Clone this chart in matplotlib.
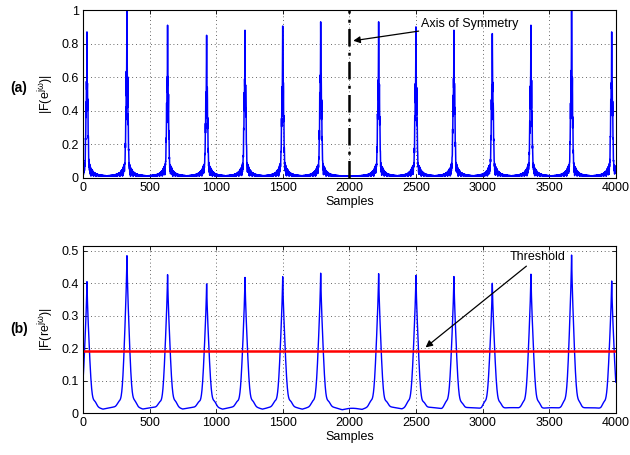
import numpy as np
import matplotlib
matplotlib.use("Agg")
import matplotlib.pyplot as plt
from matplotlib.ticker import FormatStrFormatter, MultipleLocator

plt.rcParams["font.family"] = ["Liberation Sans", "DejaVu Sans"]
plt.rcParams["mathtext.default"] = "regular"
plt.rcParams["mathtext.fontset"] = "custom"
plt.rcParams["mathtext.rm"] = "Liberation Sans"

# peak positions (samples), symmetric about 2000
peak_pos = [30, 330, 635, 928, 1216, 1499, 1784, 2219, 2499, 2784, 3072, 3362, 3667, 3968]
# peak heights, panel (a) and panel (b)
peak_a = [0.87, 1.0, 0.91, 0.85, 0.88, 0.905, 0.93, 0.93, 0.90, 0.88, 0.86, 0.91, 1.0, 0.87]
peak_b = [0.405, 0.485, 0.426, 0.398, 0.419, 0.423, 0.433, 0.43, 0.423, 0.419, 0.398, 0.426, 0.485, 0.405]
threshold = 0.19
n_samples = 4000

n = np.arange(n_samples)

# (a) raw spectrum: sharp spikes with a ragged shoulder, small floor ripple
ya = 0.005 + 0.008 * np.abs(np.sin(0.37 * n) * np.cos(0.053 * n))
for c, h in zip(peak_pos, peak_a):
    d = n - c
    core = 1.0 / (1 + (d / 2.5) ** 2)
    body = 0.68 / (1 + (d / 10.0) ** 4) * (0.6 + 0.4 * np.abs(np.cos(2.3 * n)))
    feet = 0.11 / (1 + (d / 28.0) ** 2) * np.abs(np.sin(1.1 * n))
    ya = np.maximum(ya, np.maximum(h * np.maximum(core, body), feet + 0.01))
ya = np.minimum(ya, 1.0)

# (b) smoothed spectrum
yb = 0.009 + 0.005 * np.abs(np.sin(0.021 * n))
for c, h in zip(peak_pos, peak_b):
    d = np.abs(n - c)
    shape = 0.3 * np.exp(-d / 6.0) + 0.62 * np.exp(-(d / 27.0) ** 2) + 0.08 * np.exp(-d / 45.0)
    yb += (h - 0.012) * shape + 0.012 * np.exp(-((d - 60) / 18.0) ** 2)

fig = plt.figure(figsize=(6.3, 4.55), dpi=100)
ax1 = fig.add_axes([0.1317, 0.6088, 0.846, 0.369])
ax2 = fig.add_axes([0.1317, 0.0923, 0.846, 0.367])

grid_kw = dict(color="k", linestyle=(0, (1, 3.5)), linewidth=0.6, alpha=0.8)

ax1.plot(n, ya, color="#0000ff", lw=1.1)
ax1.axvline(2000, color="k", lw=1.8, linestyle=(0, (7, 2.5, 1.2, 2.5)))
ax1.annotate("Axis of Symmetry", xy=(2008, 0.815), xytext=(2540, 0.92),
             fontsize=9, va="center", ha="left",
             arrowprops=dict(arrowstyle="-|>", color="k", lw=0.9, mutation_scale=10, shrinkA=0))
ax1.set_xlim(0, 4000)
ax1.set_ylim(0, 1)
ax1.yaxis.set_major_locator(MultipleLocator(0.2))
ax1.set_ylabel(r"|F(e$^{j\omega}$)|", fontsize=9, labelpad=4)
ax1.set_xlabel("Samples", fontsize=9, labelpad=1)

ax2.plot(n, yb, color="#0000ff", lw=1.0)
ax2.axhline(threshold, color="#ff0000", lw=1.8)
ax2.annotate("Threshold", xy=(2555, 0.197), xytext=(3200, 0.48),
             fontsize=9, va="center", ha="left",
             arrowprops=dict(arrowstyle="-|>", color="k", lw=0.9, mutation_scale=10, shrinkA=0))
ax2.set_xlim(0, 4000)
ax2.set_ylim(0, 0.515)
ax2.yaxis.set_major_locator(MultipleLocator(0.1))
ax2.set_ylabel(r"|F(re$^{j\omega}$)|", fontsize=9, labelpad=4)
ax2.set_xlabel("Samples", fontsize=9, labelpad=1)

for ax in (ax1, ax2):
    ax.xaxis.set_major_locator(MultipleLocator(500))
    ax.yaxis.set_major_formatter(FormatStrFormatter("%g"))
    ax.tick_params(direction="in", top=True, right=True, labelsize=9, length=3, width=0.6, pad=3)
    ax.grid(True, **grid_kw)
    for s in ax.spines.values():
        s.set_linewidth(0.8)

fig.text(0.016, 0.806, "(a)", fontsize=10, fontweight="bold", va="center")
fig.text(0.016, 0.276, "(b)", fontsize=10, fontweight="bold", va="center")

fig.savefig("out.png", dpi=100)
